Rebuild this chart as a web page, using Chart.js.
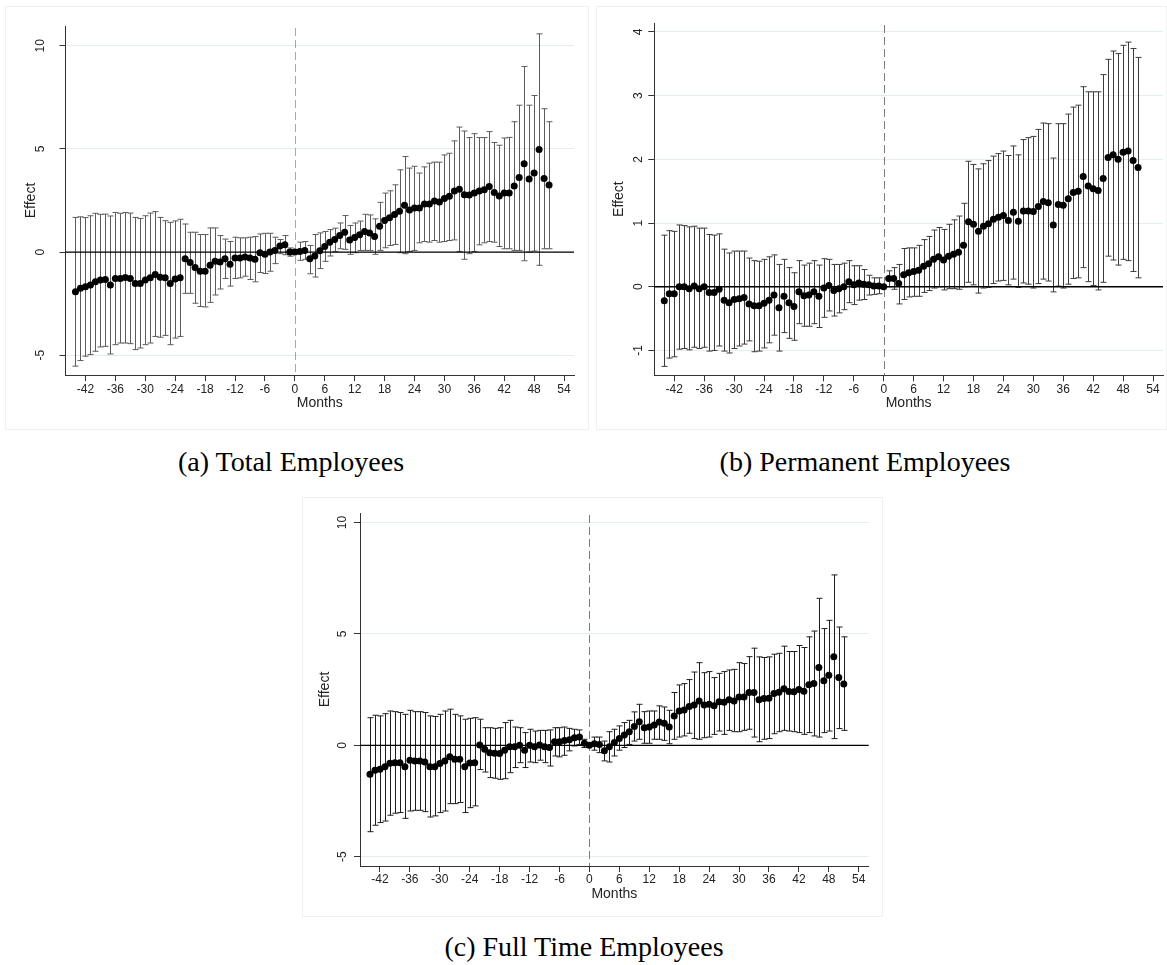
<!DOCTYPE html>
<html lang="en">
<head>
    <meta charset="UTF-8">
    <title>Event study: employees</title>
    <script src="https://cdn.jsdelivr.net/npm/chart.js"></script>
    <style>
        body {
            margin: 0;
            padding: 0;
            background: #fff;
        }
        .page {
            position: relative;
            width: 1167px;
            height: 965px;
            overflow: hidden;
        }
        .panel {
            position: absolute;
            border: 1px solid #eef1f1;
            box-sizing: border-box;
        }
        .panel canvas {
            position: absolute;
            left: 0;
            top: 0;
        }
        .caption {
            position: absolute;
            font-family: "Liberation Serif", "Times New Roman", serif;
            font-size: 28px;
            color: #000;
            white-space: nowrap;
            transform: translate(-50%, -50%);
        }
    </style>
</head>
<body>
<div class="page">
    <div class="panel" style="left:5px; top:6px; width:584px; height:424px;">
        <canvas id="chartA" width="584" height="424"></canvas>
    </div>
    <div class="panel" style="left:596px; top:6px; width:571px; height:424px;">
        <canvas id="chartB" width="571" height="424"></canvas>
    </div>
    <div class="panel" style="left:302px; top:497px; width:581px; height:420px;">
        <canvas id="chartC" width="581" height="420"></canvas>
    </div>
    <div class="caption" style="left:291px; top:462px;">(a) Total Employees</div>
    <div class="caption" style="left:865px; top:462px;">(b) Permanent Employees</div>
    <div class="caption" style="left:584px; top:947px;">(c) Full Time Employees</div>
</div>

<script>
    // months relative to event
    const months = [
        -44, -43, -42, -41, -40, -39, -38, -37, -36, -35, -34, -33, -32, -31, -30, -29, -28, -27, -26, -25, -24, -23,
        -22, -21, -20, -19, -18, -17, -16, -15, -14, -13, -12, -11, -10, -9, -8, -7, -6, -5, -4, -3, -2, -1,
        0, 1, 2, 3, 4, 5, 6, 7, 8, 9, 10, 11, 12, 13, 14, 15, 16, 17, 18, 19, 20, 21, 22, 23, 24, 25,
        26, 27, 28, 29, 30, 31, 32, 33, 34, 35, 36, 37, 38, 39, 40, 41, 42, 43, 44, 45, 46, 47, 48, 49, 50, 51
    ];
    const xTicks = [-42, -36, -30, -24, -18, -12, -6, 0, 6, 12, 18, 24, 30, 36, 42, 48, 54];

    // (a) Total Employees
    const totalEst = [
        -1.92, -1.76, -1.68, -1.60, -1.44, -1.36, -1.33, -1.60, -1.28, -1.28, -1.23, -1.28, -1.52, -1.52, -1.36, -1.25, -1.09, -1.22, -1.25, -1.52, -1.31, -1.25,
        -0.32, -0.51, -0.75, -0.93, -0.93, -0.64, -0.45, -0.48, -0.32, -0.59, -0.29, -0.29, -0.24, -0.29, -0.35, -0.03, -0.11, 0.00, 0.08, 0.29, 0.35, 0.00,
        0.00, 0.03, 0.08, -0.32, -0.19, 0.06, 0.27, 0.48, 0.61, 0.80, 0.96, 0.59, 0.71, 0.84, 1.00, 0.93, 0.76, 1.25, 1.53, 1.66, 1.82, 1.98, 2.27, 2.04, 2.14, 2.14,
        2.33, 2.33, 2.48, 2.43, 2.60, 2.70, 2.96, 3.05, 2.78, 2.77, 2.86, 2.96, 3.02, 3.18, 2.89, 2.72, 2.86, 2.86, 3.20, 3.62, 4.28, 3.54, 3.83, 4.97, 3.57, 3.25
    ];
    const totalHi = [
        1.68, 1.71, 1.67, 1.76, 1.88, 1.83, 1.84, 1.75, 1.92, 1.88, 1.92, 1.89, 1.68, 1.63, 1.76, 1.89, 1.96, 1.68, 1.52, 1.44, 1.51, 1.59,
        1.36, 0.96, 0.96, 0.85, 0.85, 1.17, 1.17, 0.80, 0.63, 0.51, 0.72, 0.69, 0.69, 0.72, 0.75, 0.88, 0.91, 0.91, 0.72, 0.61, 0.80, 0.20,
        null, 0.48, 0.51, 0.32, 0.85, 0.93, 1.00, 1.09, 1.16, 1.41, 1.77, 1.29, 1.41, 1.50, 1.83, 1.80, 1.61, 2.41, 2.86, 2.97, 3.26, 3.99, 4.63, 4.07, 4.16, 3.83,
        4.13, 4.31, 4.36, 4.36, 4.71, 4.79, 5.39, 6.06, 5.87, 5.55, 5.74, 5.55, 5.55, 5.84, 5.31, 5.18, 5.53, 5.56, 6.32, 7.12, 9.00, 7.12, 7.59, 10.58, 6.95, 6.32
    ];
    const totalLo = [
        -5.53, -5.26, -5.05, -4.97, -4.81, -4.60, -4.57, -4.94, -4.49, -4.41, -4.41, -4.44, -4.73, -4.65, -4.49, -4.41, -4.09, -4.13, -4.04, -4.49, -4.17, -4.09,
        -2.00, -2.00, -2.48, -2.64, -2.66, -2.44, -2.08, -1.79, -1.28, -1.65, -1.28, -1.25, -1.17, -1.33, -1.44, -0.99, -1.04, -0.93, -0.56, -0.08, -0.13, -0.20,
        null, -0.40, -0.35, -1.05, -1.21, -0.80, -0.45, -0.19, 0.03, 0.16, 0.13, -0.11, -0.03, 0.08, 0.08, 0.08, -0.11, 0.08, 0.21, 0.32, 0.37, -0.03, -0.08, 0.03, 0.08, 0.45,
        0.51, 0.48, 0.56, 0.48, 0.51, 0.56, 0.59, 0.03, -0.35, -0.08, 0.03, 0.35, 0.45, 0.51, 0.48, 0.27, 0.16, 0.16, 0.08, 0.08, -0.42, 0.00, 0.05, -0.64, 0.16, 0.16
    ];

    // (b) Permanent Employees
    const permEst = [
        -0.22, -0.11, -0.11, 0.00, 0.00, -0.03, 0.01, -0.03, 0.00, -0.09, -0.09, -0.04, -0.21, -0.25, -0.20, -0.19, -0.17, -0.27, -0.30, -0.30, -0.26, -0.21,
        -0.13, -0.33, -0.15, -0.25, -0.31, -0.08, -0.14, -0.13, -0.08, -0.15, -0.02, 0.02, -0.06, -0.03, 0.00, 0.08, 0.03, 0.06, 0.04, 0.03, 0.01, 0.01,
        0.00, 0.13, 0.13, 0.05, 0.19, 0.22, 0.24, 0.26, 0.32, 0.36, 0.43, 0.47, 0.42, 0.48, 0.51, 0.54, 0.65, 1.02, 0.98, 0.87, 0.95, 0.99, 1.06, 1.09, 1.12, 1.04,
        1.17, 1.03, 1.19, 1.19, 1.18, 1.26, 1.34, 1.32, 0.97, 1.29, 1.28, 1.38, 1.48, 1.50, 1.73, 1.58, 1.54, 1.51, 1.70, 2.03, 2.07, 2.00, 2.11, 2.13, 1.98, 1.87
    ];
    const permHi = [
        0.81, 0.88, 0.87, 0.97, 0.96, 0.94, 0.95, 0.92, 0.92, 0.82, 0.81, 0.83, 0.59, 0.53, 0.56, 0.56, 0.56, 0.45, 0.41, 0.40, 0.43, 0.47,
        0.50, 0.35, 0.43, 0.30, 0.22, 0.41, 0.34, 0.37, 0.41, 0.34, 0.44, 0.43, 0.35, 0.35, 0.37, 0.41, 0.33, 0.33, 0.27, 0.18, 0.14, 0.14,
        null, 0.25, 0.30, 0.35, 0.60, 0.61, 0.61, 0.65, 0.74, 0.79, 0.89, 0.93, 0.90, 0.98, 1.05, 1.11, 1.31, 1.97, 1.92, 1.85, 1.93, 1.98, 2.05, 2.09, 2.13, 2.06,
        2.21, 2.07, 2.31, 2.34, 2.36, 2.47, 2.57, 2.56, 2.02, 2.56, 2.56, 2.71, 2.82, 2.85, 3.14, 3.06, 3.06, 3.06, 3.33, 3.57, 3.70, 3.66, 3.79, 3.84, 3.74, 3.60
    ];
    const permLo = [
        -1.25, -1.12, -1.10, -0.98, -0.97, -0.99, -0.95, -0.97, -0.95, -1.01, -1.00, -0.93, -1.01, -1.04, -0.97, -0.93, -0.90, -0.85, -1.02, -1.01, -0.96, -0.88,
        -0.76, -1.01, -0.72, -0.81, -0.84, -0.58, -0.62, -0.62, -0.58, -0.64, -0.48, -0.38, -0.46, -0.41, -0.36, -0.25, -0.28, -0.21, -0.20, -0.13, -0.12, -0.11,
        null, 0.00, -0.04, -0.27, -0.20, -0.16, -0.15, -0.15, -0.09, -0.06, -0.02, 0.00, -0.05, -0.03, -0.03, -0.04, 0.00, 0.07, 0.03, -0.10, -0.02, -0.01, 0.05, 0.09, 0.10, 0.03,
        0.12, -0.01, 0.06, 0.04, -0.02, 0.05, 0.12, 0.09, -0.08, 0.01, -0.02, 0.04, 0.13, 0.14, 0.30, 0.08, 0.02, -0.05, 0.07, 0.48, 0.42, 0.34, 0.43, 0.41, 0.24, 0.14
    ];

    // (c) Full Time Employees
    const fullEst = [
        -1.30, -1.12, -1.08, -0.96, -0.81, -0.78, -0.78, -0.96, -0.67, -0.70, -0.70, -0.75, -0.96, -0.96, -0.82, -0.70, -0.51, -0.63, -0.63, -0.96, -0.79, -0.78,
        0.01, -0.18, -0.33, -0.36, -0.37, -0.22, -0.06, -0.07, 0.00, -0.22, 0.00, -0.07, 0.01, -0.06, -0.10, 0.16, 0.16, 0.21, 0.25, 0.34, 0.37, 0.09,
        0.00, 0.07, 0.04, -0.25, -0.07, 0.12, 0.31, 0.46, 0.61, 0.84, 1.06, 0.79, 0.82, 0.91, 1.05, 0.99, 0.82, 1.32, 1.54, 1.59, 1.74, 1.81, 1.99, 1.81, 1.84, 1.77,
        1.95, 1.93, 2.04, 1.99, 2.17, 2.17, 2.37, 2.37, 2.05, 2.10, 2.11, 2.32, 2.38, 2.54, 2.41, 2.40, 2.51, 2.43, 2.72, 2.77, 3.49, 2.90, 3.14, 3.98, 3.04, 2.75
    ];
    const fullHi = [
        1.24, 1.35, 1.32, 1.42, 1.54, 1.51, 1.47, 1.39, 1.57, 1.51, 1.51, 1.47, 1.32, 1.29, 1.39, 1.54, 1.62, 1.39, 1.32, 1.17, 1.21, 1.24,
        1.17, 0.79, 0.79, 0.76, 0.79, 1.02, 1.12, 0.82, 0.79, 0.57, 0.72, 0.64, 0.67, 0.67, 0.69, 0.79, 0.79, 0.82, 0.76, 0.72, 0.69, 0.27,
        null, 0.37, 0.37, 0.19, 0.61, 0.72, 0.87, 1.02, 1.12, 1.50, 1.84, 1.51, 1.54, 1.54, 1.77, 1.72, 1.57, 2.37, 2.71, 2.77, 2.95, 3.29, 3.71, 3.26, 3.31, 3.04,
        3.23, 3.31, 3.38, 3.41, 3.71, 3.67, 3.98, 4.36, 3.97, 3.94, 3.97, 4.09, 4.13, 4.45, 4.21, 4.21, 4.48, 4.39, 4.87, 5.13, 6.60, 5.24, 5.61, 7.65, 5.31, 4.87
    ];
    const fullLo = [
        -3.88, -3.59, -3.47, -3.40, -3.14, -3.05, -3.02, -3.28, -2.95, -2.92, -2.92, -2.98, -3.22, -3.17, -3.02, -2.95, -2.62, -2.62, -2.57, -3.02, -2.80, -2.72,
        -1.09, -1.20, -1.45, -1.48, -1.53, -1.50, -1.23, -1.00, -0.78, -1.00, -0.75, -0.78, -0.67, -0.78, -0.93, -0.48, -0.52, -0.45, -0.25, -0.03, 0.04, -0.10,
        null, -0.22, -0.33, -0.70, -0.75, -0.48, -0.22, -0.10, 0.04, 0.19, 0.27, 0.09, 0.09, 0.27, 0.27, 0.22, 0.07, 0.27, 0.37, 0.42, 0.54, 0.30, 0.27, 0.34, 0.37, 0.49,
        0.64, 0.49, 0.67, 0.61, 0.61, 0.67, 0.72, 0.37, 0.16, 0.27, 0.30, 0.52, 0.61, 0.67, 0.64, 0.61, 0.57, 0.49, 0.57, 0.42, 0.37, 0.57, 0.64, 0.30, 0.75, 0.67
    ];

    const wideYTicks = [-5, 0, 5, 10];
    const permYTicks = [-1, 0, 1, 2, 3, 4];

    const tickFont = { family: 'Arial, "Liberation Sans", sans-serif', size: 12 };
    const titleFont = { family: 'Arial, "Liberation Sans", sans-serif', size: 14 };

    // draws CI whiskers, the y=0 line and the dashed event line
    const errorBars = {
        id: 'errorBars',
        beforeDatasetsDraw(chart, args, opts) {
            const ctx = chart.ctx;
            const x = chart.scales.x;
            const y = chart.scales.y;
            const area = chart.chartArea;

            ctx.save();
            ctx.strokeStyle = opts.refColor;
            ctx.lineWidth = 1;
            ctx.setLineDash([8, 4]);
            const x0 = Math.round(x.getPixelForValue(0)) + 0.5;
            ctx.beginPath();
            ctx.moveTo(x0, area.top + 2);
            ctx.lineTo(x0, area.bottom);
            ctx.stroke();
            ctx.setLineDash([]);

            ctx.strokeStyle = opts.color;
            ctx.lineWidth = 1;
            for (let i = 0; i < opts.lo.length; i++) {
                if (opts.lo[i] == null || opts.hi[i] == null) continue;
                const px = Math.round(x.getPixelForValue(opts.months[i])) + 0.5;
                const top = y.getPixelForValue(opts.hi[i]);
                const bot = y.getPixelForValue(opts.lo[i]);
                ctx.beginPath();
                ctx.moveTo(px, top);
                ctx.lineTo(px, bot);
                ctx.moveTo(px - 3, top);
                ctx.lineTo(px + 3, top);
                ctx.moveTo(px - 3, bot);
                ctx.lineTo(px + 3, bot);
                ctx.stroke();
            }

            ctx.strokeStyle = '#000';
            ctx.lineWidth = 1.3;
            const y0 = y.getPixelForValue(0);
            ctx.beginPath();
            ctx.moveTo(area.left, y0);
            ctx.lineTo(area.right, y0);
            ctx.stroke();
            ctx.restore();
        }
    };

    function makePanel(id, est, lo, hi, p) {
        const ctx = document.getElementById(id).getContext('2d');
        return new Chart(ctx, {
            type: 'scatter',
            data: {
                datasets: [{
                    data: months.map((m, i) => ({ x: m, y: est[i] })),
                    backgroundColor: '#000',
                    borderWidth: 0,
                    pointRadius: 3.5
                }]
            },
            options: {
                responsive: false,
                animation: false,
                devicePixelRatio: 1,
                layout: { padding: { top: p.padTop, right: p.padRight, left: 0, bottom: 0 } },
                scales: {
                    x: {
                        type: 'linear',
                        min: -46,
                        max: 56,
                        afterBuildTicks: s => { s.ticks = xTicks.map(v => ({ value: v })); },
                        afterFit: s => { s.height = p.xHeight; },
                        grid: { drawOnChartArea: false, tickLength: 6, tickColor: '#333' },
                        border: { color: '#333', width: 1 },
                        ticks: {
                            font: tickFont,
                            color: '#222',
                            padding: p.xTickPad,
                            maxRotation: 0,
                            callback: v => String(v)
                        },
                        title: {
                            display: true,
                            text: 'Months',
                            font: titleFont,
                            color: '#222',
                            padding: { top: 0, bottom: p.monthsPad }
                        }
                    },
                    y: {
                        min: p.yMin,
                        max: p.yMax,
                        afterBuildTicks: s => { s.ticks = p.yTicks.map(v => ({ value: v })); },
                        afterFit: s => { s.width = p.yWidth; },
                        grid: { color: '#e4edef', tickLength: 6, tickColor: '#333' },
                        border: { color: '#333', width: 1 },
                        ticks: {
                            font: tickFont,
                            color: '#222',
                            minRotation: 90,
                            maxRotation: 90,
                            crossAlign: 'center',
                            padding: p.yTickPad,
                            callback: v => String(v)
                        },
                        title: {
                            display: true,
                            text: 'Effect',
                            font: titleFont,
                            color: '#222',
                            padding: { top: p.effectPad, bottom: 0 }
                        }
                    }
                },
                plugins: {
                    legend: { display: false },
                    tooltip: { enabled: false },
                    errorBars: { months: months, lo: lo, hi: hi, color: p.barColor, refColor: p.refColor }
                }
            },
            plugins: [errorBars]
        });
    }

    makePanel('chartA', totalEst, totalLo, totalHi, {
        yMin: -5.96, yMax: 10.96, yTicks: wideYTicks,
        padTop: 16, padRight: 16, xHeight: 56, yWidth: 59.5,
        xTickPad: 1, monthsPad: 19.6, yTickPad: 11.8, effectPad: 16.6,
        barColor: '#5c5c5c', refColor: '#a8a8a8'
    });
    makePanel('chartB', permEst, permLo, permHi, {
        yMin: -1.39, yMax: 4.14, yTicks: permYTicks,
        padTop: 16, padRight: 5, xHeight: 55.7, yWidth: 57.3,
        xTickPad: 1, monthsPad: 19.6, yTickPad: 4.7, effectPad: 13.9,
        barColor: '#3c3c3c', refColor: '#7a7a7a'
    });
    makePanel('chartC', fullEst, fullLo, fullHi, {
        yMin: -5.42, yMax: 10.43, yTicks: wideYTicks,
        padTop: 15, padRight: 15.3, xHeight: 52, yWidth: 57,
        xTickPad: 0, monthsPad: 15.3, yTickPad: 4.6, effectPad: 13.6,
        barColor: '#1e1e1e', refColor: '#7a7a7a'
    });
</script>
</body>
</html>
